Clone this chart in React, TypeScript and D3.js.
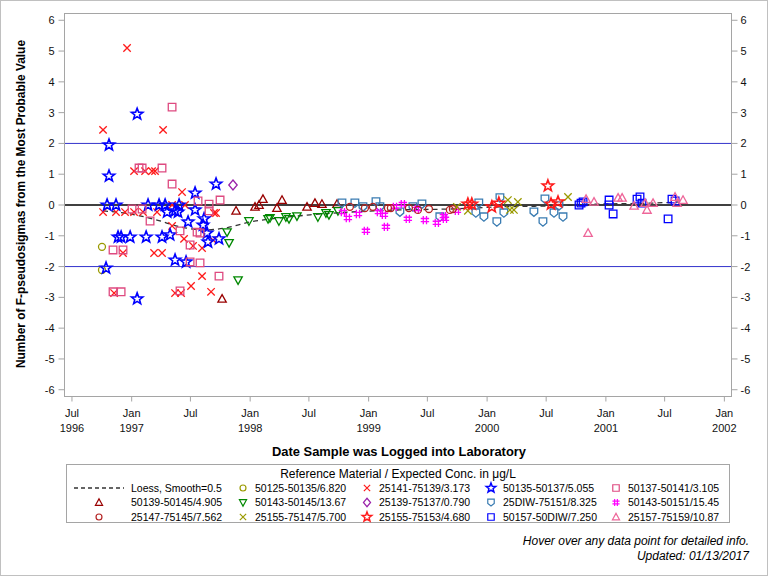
import React from "react";
import * as d3 from "d3";

const W = 768;
const H = 576;

// ---------- data (decimal year, value in F-pseudosigmas) ----------
const s50125_50135: [number, number][] = [
  [1996.75, -1.36], [1996.75, -2.11],
];
const s25141_75139: [number, number][] = [
  [1996.759, 2.44], [1996.961, 5.1], [1997.265, 2.44], [1997.02, 1.1], [1997.113, 1.1],
  [1997.172, 1.1], [1997.197, 1.1], [1997.425, 0.42], [1996.759, -0.23], [1996.868, -0.23],
  [1996.944, -0.23], [1997.02, -0.23], [1997.096, -0.23], [1997.214, -0.23], [1997.341, 0],
  [1997.45, 0], [1997.695, -0.26], [1997.712, -0.26], [1997.341, -0.68], [1997.442, -1.1],
  [1997.518, -1.33], [1997.594, -1.4], [1997.687, -1.14], [1996.927, -1.56], [1997.189, -1.56],
  [1997.256, -1.56], [1997.594, -2.31], [1997.501, -2.63], [1997.67, -2.82], [1996.852, -2.86],
  [1997.366, -2.86], [1997.417, -2.86],
];
const s50135_50137: [number, number][] = [
  [1997.046, 2.95], [1996.809, 1.95], [1996.809, 0.94], [1997.712, 0.68], [1997.535, 0.39],
  [1996.793, 0], [1996.868, 0], [1997.138, 0], [1997.231, 0], [1997.282, 0], [1997.4, 0],
  [1997.299, -0.23], [1997.366, -0.19], [1997.391, -0.23], [1997.535, -0.16], [1997.476, -0.55],
  [1997.611, -0.45], [1997.602, -0.65], [1997.636, -0.91], [1997.644, -1.2], [1997.737, -1.1],
  [1996.885, -1.04], [1996.911, -1.04], [1996.987, -1.04], [1997.122, -1.04], [1997.256, -1.04],
  [1997.324, -0.97], [1997.366, -1.79], [1997.459, -1.85], [1996.784, -2.05], [1997.046, -3.05],
];
const s50137_50141: [number, number][] = [
  [1997.341, 3.18], [1997.062, 1.2], [1997.088, 1.2], [1997.256, 1.2], [1997.341, 0.68],
  [1997.56, 0.13], [1997.746, 0.16], [1997.653, 0.03], [1997.653, -0.19], [1997.003, -0.13],
  [1997.088, -0.13], [1997.155, -0.52], [1997.408, -0.84], [1997.552, -0.88], [1997.577, -0.91],
  [1997.493, -1.3], [1996.843, -1.46], [1996.927, -1.46], [1997.493, -1.85], [1997.577, -1.88],
  [1997.737, -2.31], [1996.843, -2.82], [1996.911, -2.82], [1997.408, -2.79],
];
const s50139_50145: [number, number][] = [
  [1997.763, -3.05], [1997.881, -0.19], [1998.041, -0.06], [1998.075, 0], [1998.108, 0.19],
  [1998.226, -0.1], [1998.269, 0.16], [1998.48, -0.06], [1998.547, 0.06], [1998.606, 0.03],
  [1998.733, 0.03],
];
const s50143_50145: [number, number][] = [
  [1997.805, -0.88], [1997.822, -1.23], [1997.898, -2.44], [1997.99, -0.52], [1998.151, -0.45],
  [1998.167, -0.42], [1998.243, -0.52], [1998.302, -0.39], [1998.328, -0.45], [1998.395, -0.36],
  [1998.572, -0.39], [1998.64, -0.26], [1998.665, -0.32], [1998.741, -0.19],
];
const s25139_75137: [number, number][] = [[1997.855, 0.65]];
const s25DIW_75151: [number, number][] = [
  [1998.775, 0.06], [1998.884, 0.06], [1998.952, -0.06], [1999.062, 0.1], [1999.095, -0.06],
  [1999.264, -0.23], [1999.374, -0.06], [1999.45, 0.03], [1999.601, -0.39], [1999.905, -0.26],
  [1999.93, 0.06], [1999.973, -0.39], [2000.082, -0.55], [2000.108, 0.23], [2000.141, -0.26],
  [2000.394, -0.23], [2000.47, -0.55], [2000.487, 0.19], [2000.563, -0.26], [2000.605, -0.03],
  [2000.639, -0.39],
];
const s50143_50151: [number, number][] = [
  [1998.783, -0.23], [1998.825, -0.42], [1998.91, -0.29], [1998.977, -0.84], [1999.087, -0.23],
  [1999.129, -0.32], [1999.146, -0.71], [1999.222, -0.06], [1999.289, 0.03], [1999.331, -0.45],
  [1999.407, -0.13], [1999.475, -0.49], [1999.576, -0.58], [1999.635, -0.36], [1999.644, -0.45],
  [1999.745, -0.19],
];
const s25147_75145: [number, number][] = [
  [1998.842, -0.06], [1998.969, -0.1], [1999.036, -0.06], [1999.163, -0.1], [1999.188, -0.1],
  [1999.34, -0.1], [1999.416, -0.16], [1999.509, -0.13], [1999.686, -0.16], [1999.711, -0.13],
];
const s25155_75147: [number, number][] = [
  [1999.745, -0.06], [1999.838, -0.19], [2000.175, 0.16], [2000.192, -0.16], [2000.226, -0.16],
  [2000.259, 0.1], [2000.681, 0.26],
];
const s25155_75153: [number, number][] = [
  [1999.838, 0.03], [1999.871, 0.03], [2000.04, -0.06], [2000.099, 0.06], [2000.512, 0.62],
  [2000.538, 0.03], [2000.597, 0.1],
];
const s50157_50DIW: [number, number][] = [
  [2000.774, 0], [2000.791, 0.06], [2000.808, 0.1], [2001.027, 0.16], [2001.027, 0],
  [2001.061, -0.29], [2001.263, 0.19], [2001.288, 0.26], [2001.305, 0.06], [2001.525, -0.45],
  [2001.558, 0.19], [2001.584, 0.13],
];
const s25157_75159: [number, number][] = [
  [2000.833, 0.19], [2000.9, 0.1], [2000.85, -0.91], [2001.103, 0.23], [2001.137, 0.23],
  [2001.238, -0.03], [2001.331, 0.06], [2001.347, -0.16], [2001.398, 0.06], [2001.584, 0.26],
  [2001.601, 0.06], [2001.651, 0.16],
];
const loessCurve: [number, number][] = [
  [1996.759, -0.19], [1996.987, -0.29], [1997.214, -0.49], [1997.408, -0.71], [1997.619, -0.81],
  [1997.788, -0.75], [1997.999, -0.55], [1998.252, -0.42], [1998.505, -0.32], [1998.842, -0.23],
  [1999.264, -0.16], [1999.686, -0.13], [2000.108, -0.06], [2000.53, -0.03], [2000.951, 0.03],
  [2001.373, 0.06], [2001.626, 0.1],
];

const seriesNames = [
  "50125-50135/6.820", "25141-75139/3.173", "50135-50137/5.055", "50137-50141/3.105",
  "50139-50145/4.905", "50143-50145/13.67", "25139-75137/0.790", "25DIW-75151/8.325",
  "50143-50151/15.45", "25147-75145/7.562", "25155-75147/5.700", "25155-75153/4.680",
  "50157-50DIW/7.250", "25157-75159/10.87",
];
const seriesData = [
  s50125_50135, s25141_75139, s50135_50137, s50137_50141, s50139_50145, s50143_50145,
  s25139_75137, s25DIW_75151, s50143_50151, s25147_75145, s25155_75147, s25155_75153,
  s50157_50DIW, s25157_75159,
];
const loessLabel = "Loess, Smooth=0.5";

const yTickValues = [-6, -5, -4, -3, -2, -1, 0, 1, 2, 3, 4, 5, 6];
const xTickDates = [
  "1996-07-01", "1997-01-01", "1997-07-01", "1998-01-01", "1998-07-01", "1999-01-01",
  "1999-07-01", "2000-01-01", "2000-07-01", "2001-01-01", "2001-07-01", "2002-01-01",
];
const xTickMonths = ["Jul", "Jan", "Jul", "Jan", "Jul", "Jan", "Jul", "Jan", "Jul", "Jan", "Jul", "Jan"];
const xTickYears = ["1996", "1997", "", "1998", "", "1999", "", "2000", "", "2001", "", "2002"];
const refLines = [2, -2];

// ---------- styles ----------
type Shape = "circle" | "x" | "star" | "square" | "triUp" | "triDown" | "diamond" | "shield" | "hash";
const seriesStyles: { color: string; shape: Shape }[] = [
  { color: "#9a9a00", shape: "circle" },
  { color: "#ff1a1a", shape: "x" },
  { color: "#0000ff", shape: "star" },
  { color: "#de4a80", shape: "square" },
  { color: "#990000", shape: "triUp" },
  { color: "#008800", shape: "triDown" },
  { color: "#9a22aa", shape: "diamond" },
  { color: "#3a7cb2", shape: "shield" },
  { color: "#ff00ff", shape: "hash" },
  { color: "#b42222", shape: "circle" },
  { color: "#9a9a00", shape: "x" },
  { color: "#ff1a1a", shape: "star" },
  { color: "#0000ff", shape: "square" },
  { color: "#ee6699", shape: "triUp" },
];

function fromDecimalYear(y: number): Date {
  const yr = Math.floor(y);
  const a = new Date(yr, 0, 1).getTime();
  const b = new Date(yr + 1, 0, 1).getTime();
  return new Date(a + (y - yr) * (b - a));
}

function starPath(R: number): string {
  const r = R * 0.42;
  const pts: string[] = [];
  for (let i = 0; i < 10; i++) {
    const ang = -Math.PI / 2 + (i * Math.PI) / 5;
    const rr = i % 2 === 0 ? R : r;
    pts.push(`${(rr * Math.cos(ang)).toFixed(2)},${(rr * Math.sin(ang)).toFixed(2)}`);
  }
  return "M" + pts.join("L") + "Z";
}

function symbolPath(shape: Shape): string {
  switch (shape) {
    case "circle":
      return "M-3.5,0a3.5,3.5 0 1,0 7,0a3.5,3.5 0 1,0 -7,0Z";
    case "x":
      return "M-3.7,-3.7L3.7,3.7M-3.7,3.7L3.7,-3.7";
    case "star":
      return starPath(6);
    case "square":
      return "M-3.8,-3.8H3.8V3.8H-3.8Z";
    case "triUp":
      return "M0,-4.3L4.2,3.3L-4.2,3.3Z";
    case "triDown":
      return "M0,4.3L4.2,-3.3L-4.2,-3.3Z";
    case "diamond":
      return "M0,-5L4.2,0L0,5L-4.2,0Z";
    case "shield":
      return "M-3.8,-4H3.8V1L0,4.2L-3.8,1Z";
    case "hash":
      return "M-1.6,-4.2V4.2M1.6,-4.2V4.2M-4.2,-1.6H4.2M-4.2,1.6H4.2";
  }
}

const FONT = "'Liberation Sans', Arial, sans-serif";

export default function App() {
  const left = 64.5;
  const right = 731.5;
  const top = 13.5;
  const bottom = 396.5;

  const x = d3
    .scaleTime()
    .domain([new Date(1996, 5, 8), new Date(2002, 0, 23)])
    .range([left, right]);
  const y = d3.scaleLinear().domain([-6.22, 6.22]).range([bottom, top]);

  const loessLine = d3
    .line<[number, number]>()
    .x((d) => x(fromDecimalYear(d[0])))
    .y((d) => y(d[1]))
    .curve(d3.curveMonotoneX);

  const frameColor = "#a5a5a5";

  // legend layout
  const legTextX = [131, 255, 379, 503, 628];
  const legSymX = [99, 243, 367, 491, 616];
  const legRowY = [488, 502.5, 517];
  const legendItems: { kind: "loess" | "series"; idx: number }[] = [
    { kind: "loess", idx: -1 },
    ...seriesNames.map((_, i) => ({ kind: "series" as const, idx: i })),
  ];

  return (
    <svg
      width={W}
      height={H}
      style={{ position: "absolute", left: 0, top: 0, display: "block", background: "#fff" }}
      fontFamily={FONT}
    >
      <rect x={0.5} y={0.5} width={W - 1} height={H - 1} fill="#fff" stroke="#c0c0c0" />

      {/* reference lines */}
      {refLines.map((v) => (
        <line key={v} x1={left} x2={right} y1={y(v)} y2={y(v)} stroke="#3333cc" strokeWidth={1} />
      ))}
      <line x1={left} x2={right} y1={y(0)} y2={y(0)} stroke="#000" strokeWidth={1.4} />

      {/* loess */}
      <path d={loessLine(loessCurve) || ""} fill="none" stroke="#333" strokeWidth={1.3} strokeDasharray="5,4" />

      {/* scatter */}
      {seriesData.map((data, si) => {
        const st = seriesStyles[si];
        const p = symbolPath(st.shape);
        return (
          <g key={si}>
            {data.map((d, i) => (
              <path
                key={i}
                d={p}
                transform={`translate(${x(fromDecimalYear(d[0])).toFixed(2)},${y(d[1]).toFixed(2)})`}
                fill="none"
                stroke={st.color}
                strokeWidth={st.shape === "star" ? 1.6 : 1.3}
              />
            ))}
          </g>
        );
      })}

      {/* frame */}
      <rect x={left} y={top} width={right - left} height={bottom - top} fill="none" stroke={frameColor} />

      {/* y axes */}
      {yTickValues.map((v) => (
        <g key={v}>
          <line x1={left - 6} x2={left} y1={y(v)} y2={y(v)} stroke={frameColor} />
          <text x={left - 10} y={y(v) + 4} fontSize={11} textAnchor="end" fill="#111">
            {v}
          </text>
          <line x1={right} x2={right + 6} y1={y(v)} y2={y(v)} stroke={frameColor} />
          <text x={right + 9} y={y(v) + 4} fontSize={11} textAnchor="start" fill="#111">
            {v}
          </text>
        </g>
      ))}

      {/* x axis */}
      {xTickDates.map((ds, i) => {
        const px = x(new Date(ds + "T00:00:00"));
        return (
          <g key={ds}>
            <line x1={px} x2={px} y1={bottom} y2={bottom + 5} stroke={frameColor} />
            <text x={px} y={417} fontSize={11} textAnchor="middle" fill="#111">
              {xTickMonths[i]}
            </text>
            {xTickYears[i] && (
              <text x={px} y={432} fontSize={11} textAnchor="middle" fill="#111">
                {xTickYears[i]}
              </text>
            )}
          </g>
        );
      })}

      {/* axis labels */}
      <text x={399} y={456} fontSize={13} fontWeight="bold" textAnchor="middle" fill="#000" textLength={254} lengthAdjust="spacingAndGlyphs">
        Date Sample was Logged into Laboratory
      </text>
      <text
        transform="translate(25,204) rotate(-90)"
        fontSize={12}
        fontWeight="bold"
        textAnchor="middle"
        fill="#000"
        textLength={328}
        lengthAdjust="spacingAndGlyphs"
      >
        Number of F-pseudosigmas from the Most Probable Value
      </text>

      {/* legend */}
      <rect x={66.5} y={464.5} width={663} height={58} fill="none" stroke={frameColor} />
      <text x={398} y={477.5} fontSize={12} textAnchor="middle" fill="#000">
        Reference Material / Expected Conc. in μg/L
      </text>
      {legendItems.map((it, k) => {
        const col = k % 5;
        const row = Math.floor(k / 5);
        const cy = legRowY[row];
        if (it.kind === "loess") {
          return (
            <g key="loess">
              <line x1={74} x2={124} y1={cy} y2={cy} stroke="#333" strokeWidth={1.3} strokeDasharray="4,3" />
              <text x={legTextX[col]} y={cy + 3.6} fontSize={10.5} fill="#000">
                {loessLabel}
              </text>
            </g>
          );
        }
        const st = seriesStyles[it.idx];
        return (
          <g key={k}>
            <path
              d={symbolPath(st.shape)}
              transform={`translate(${legSymX[col]},${cy}) scale(0.85)`}
              fill="none"
              stroke={st.color}
              strokeWidth={st.shape === "star" ? 1.7 : 1.4}
            />
            <text x={legTextX[col]} y={cy + 3.6} fontSize={10.5} fill="#000">
              {seriesNames[it.idx]}
            </text>
          </g>
        );
      })}

      {/* footnotes */}
      <text x={749} y={545} fontSize={12} fontStyle="italic" textAnchor="end" fill="#000">
        Hover over any data point for detailed info.
      </text>
      <text x={749} y={560} fontSize={12} fontStyle="italic" textAnchor="end" fill="#000">
        Updated: 01/13/2017
      </text>
    </svg>
  );
}
